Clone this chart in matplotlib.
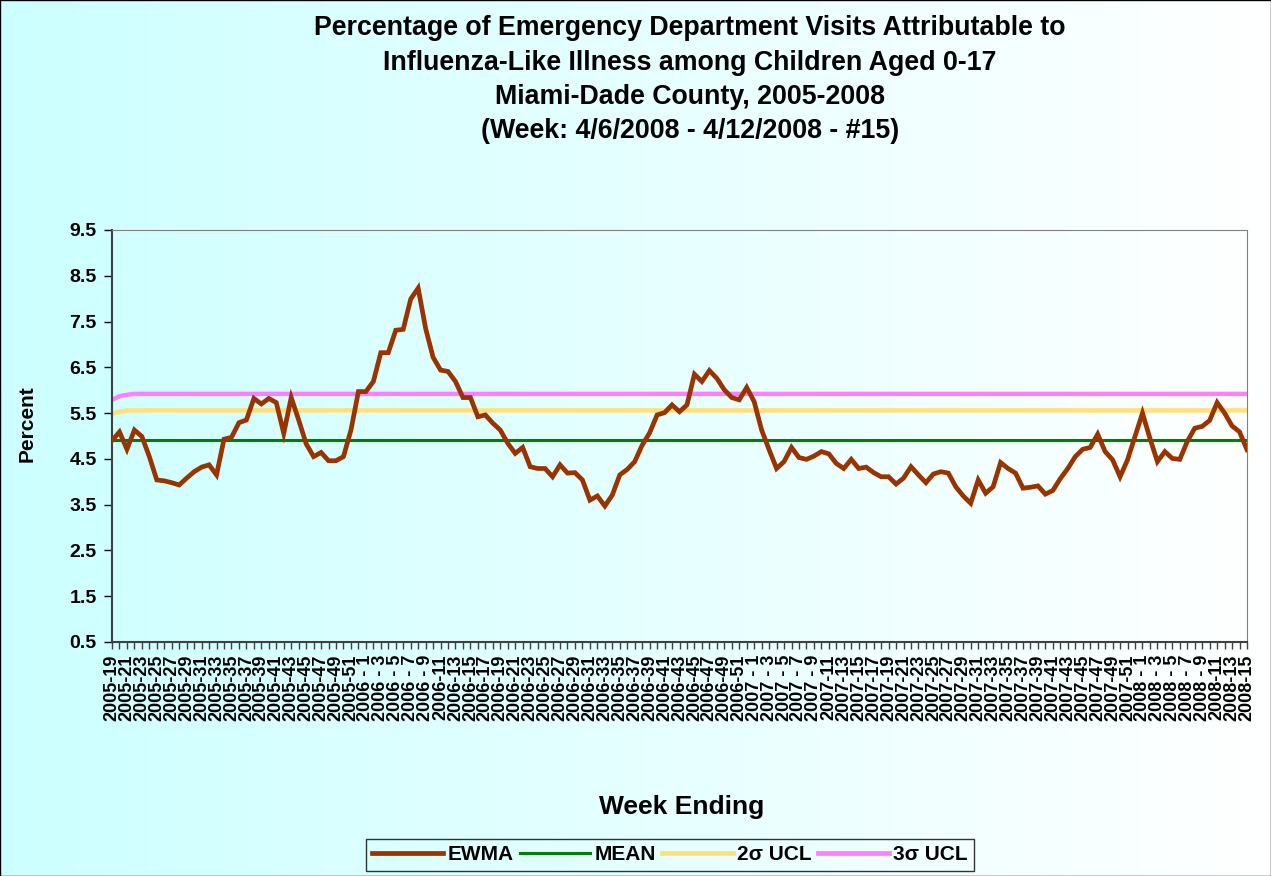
import numpy as np
import matplotlib
matplotlib.use("Agg")
import matplotlib.pyplot as plt
from matplotlib.lines import Line2D

# week categories 2005-19 .. 2008-15
years = [2005, 2006, 2007, 2008]
first_week = [19, 1, 1, 1]
last_week = [52, 52, 52, 15]

ewma = [4.90, 5.09, 4.71, 5.13, 4.99, 4.55, 4.04, 4.02, 3.98, 3.93,
        4.08, 4.22, 4.32, 4.37, 4.15, 4.93, 4.97, 5.29, 5.35, 5.82,
        5.70, 5.82, 5.73, 5.06, 5.84, 5.35, 4.83, 4.55, 4.64, 4.46,
        4.46, 4.55, 5.13, 5.97, 5.97, 6.19, 6.82, 6.82, 7.31, 7.33,
        7.99, 8.23, 7.35, 6.72, 6.44, 6.41, 6.19, 5.84, 5.84, 5.42,
        5.46, 5.28, 5.13, 4.84, 4.62, 4.75, 4.33, 4.29, 4.29, 4.11,
        4.37, 4.19, 4.20, 4.04, 3.60, 3.69, 3.47, 3.71, 4.15, 4.27,
        4.44, 4.80, 5.07, 5.46, 5.51, 5.68, 5.53, 5.68, 6.35, 6.19,
        6.43, 6.26, 6.01, 5.84, 5.79, 6.06, 5.75, 5.13, 4.70, 4.29,
        4.44, 4.75, 4.53, 4.49, 4.56, 4.66, 4.61, 4.40, 4.29, 4.49,
        4.29, 4.32, 4.20, 4.11, 4.11, 3.95, 4.08, 4.33, 4.15, 3.98,
        4.17, 4.22, 4.19, 3.89, 3.69, 3.53, 4.04, 3.75, 3.89, 4.42,
        4.29, 4.19, 3.86, 3.88, 3.91, 3.73, 3.81, 4.07, 4.29, 4.55,
        4.71, 4.75, 5.04, 4.66, 4.48, 4.11, 4.48, 4.99, 5.50, 4.95,
        4.44, 4.66, 4.51, 4.49, 4.88, 5.17, 5.21, 5.34, 5.73, 5.50,
        5.22, 5.09, 4.70]

mean_val = 4.91
ucl2_start = [5.49, 5.53]
ucl2_val = 5.56
ucl3_start = [5.79, 5.87, 5.90]
ucl3_val = 5.92

weeks = []
for y, a, b in zip(years, first_week, last_week):
    for w in range(a, b + 1):
        weeks.append(f"{y} - {w}" if w < 10 else f"{y}-{w}")

n = len(ewma)
mean = [mean_val] * n
ucl2 = ucl2_start + [ucl2_val] * (n - len(ucl2_start))
ucl3 = ucl3_start + [ucl3_val] * (n - len(ucl3_start))
x = np.arange(n)

plt.rcParams['font.family'] = ['Liberation Sans', 'DejaVu Sans']
plt.rcParams['font.weight'] = 'bold'

fig = plt.figure(figsize=(12.71, 8.76), dpi=100)

# gradient background (cyan on the left fading to white)
bg = fig.add_axes([0, 0, 1, 1], zorder=0)
grad = np.linspace(0, 1, 256)
c0 = np.array([204, 255, 255]) / 255.0
c1 = np.array([255, 255, 255]) / 255.0
img = c0[None, None, :] * (1 - grad[None, :, None]) + c1[None, None, :] * grad[None, :, None]
bg.imshow(img, aspect='auto', extent=[0, 1, 0, 1])
bg.set_xticks([])
bg.set_yticks([])
for s in bg.spines.values():
    s.set_color('black')
    s.set_linewidth(1)

ax = fig.add_axes([112/1271, 1-642/876, (1247-112)/1271, (642-230)/876], zorder=1)
ax.patch.set_alpha(0)

ax.plot(x, ucl3, color='#FF80FF', lw=3.2, solid_capstyle='butt', label='3σ UCL', zorder=2)
ax.plot(x, ucl2, color='#FFE07A', lw=3.2, solid_capstyle='butt', label='2σ UCL', zorder=2)
ax.plot(x, mean, color='#008000', lw=2.2, solid_capstyle='butt', label='MEAN', zorder=3)
ax.plot(x, ewma, color='#993300', lw=3.4, solid_joinstyle='miter', label='EWMA', zorder=4)

ax.set_xlim(0, n - 1)
ax.set_ylim(0.5, 9.5)
ax.set_yticks(np.arange(0.5, 9.6, 1.0))
ax.set_yticklabels([f"{v:.1f}" for v in np.arange(0.5, 9.6, 1.0)], fontsize=14, fontweight='bold')
ax.set_xticks(x)
ax.set_xticklabels([w if i % 2 == 0 else '' for i, w in enumerate(weeks)],
                   rotation=90, fontsize=13, fontweight='bold', va='top', ha='center')
ax.tick_params(axis='y', length=6, width=1, pad=5, color='black')
ax.tick_params(axis='x', length=5, width=1, pad=4, color='#404040')

ax.spines['left'].set_color('#404040')
ax.spines['left'].set_linewidth(1.5)
ax.spines['bottom'].set_color('#404040')
ax.spines['bottom'].set_linewidth(1.5)
ax.spines['top'].set_color('#808080')
ax.spines['right'].set_color('#808080')

title_lines = ["Percentage of Emergency Department Visits Attributable to",
               "Influenza-Like Illness among Children Aged 0-17",
               "Miami-Dade County, 2005-2008",
               "(Week: 4/6/2008 - 4/12/2008 - #15)"]
for k, line in enumerate(title_lines):
    fig.text(690/1271, 1 - (28 + 34.5*k)/876, line, ha='center', va='center',
             fontsize=19.3, fontweight='bold')

fig.text(27/1271, 1 - 424/876, 'Percent', rotation=90, ha='center', va='center',
         fontsize=15, fontweight='bold')
fig.text(682/1271, 1 - 807/876, 'Week Ending', ha='center', va='center',
         fontsize=19, fontweight='bold')

handles = [Line2D([], [], color='#993300', lw=3.4),
           Line2D([], [], color='#008000', lw=2.2),
           Line2D([], [], color='#FFE07A', lw=3.4),
           Line2D([], [], color='#FF80FF', lw=3.4)]
labels = ['EWMA', 'MEAN', '2σ UCL', '3σ UCL']
leg = fig.legend(handles, labels, loc='center', bbox_to_anchor=(670/1271, 1 - 855/876),
                 ncol=4, frameon=True, fancybox=False,
                 handlelength=3.4, handletextpad=0.2, columnspacing=0.3,
                 borderpad=0.3, prop={'weight': 'bold', 'size': 15})
leg.get_frame().set_edgecolor('black')
leg.get_frame().set_facecolor('none')
leg.get_frame().set_linewidth(1)

fig.savefig('out.png', dpi=100)
